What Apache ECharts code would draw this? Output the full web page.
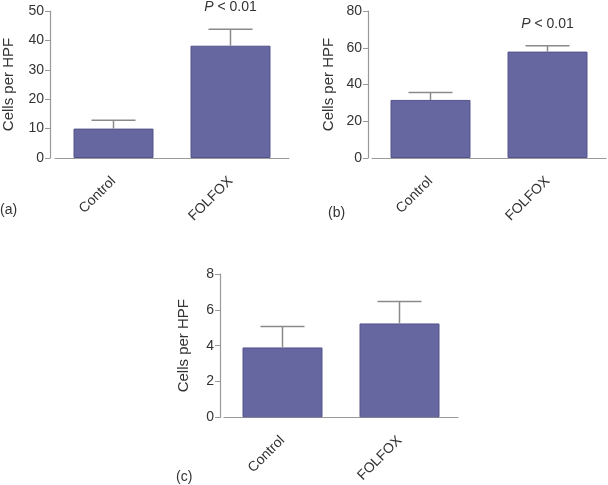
<!DOCTYPE html>
<html>
<head>
<meta charset="utf-8">
<script src="https://cdn.jsdelivr.net/npm/echarts@6/dist/echarts.min.js"></script>
<style>
html,body{margin:0;padding:0;background:#fff;}
#chart{width:608px;height:485px;}
</style>
</head>
<body>
<div id="chart"></div>
<script>
var categories = ["Control", "FOLFOX"];
var panelLabels = ["(a)", "(b)", "(c)"];
var yName = "Cells per HPF";

var meansA = [10.0, 38.2];
var upperA = [12.8, 43.8];
var pA = ["", "P < 0.01"];
var ticksA = [0, 10, 20, 30, 40, 50];

var meansB = [31.6, 57.9];
var upperB = [35.7, 61.1];
var pB = ["", "P < 0.01"];
var ticksB = [0, 20, 40, 60, 80];

var meansC = [3.9, 5.24];
var upperC = [5.07, 6.47];
var pC = ["", ""];
var ticksC = [0, 2, 4, 6, 8];

var FONT = "Liberation Sans";
var TXT = "#333";
var AX = "#999";
var BAR = "#6666a0";

var chart = echarts.init(document.getElementById("chart"), null, {renderer: "canvas"});

var grids = [
  {left: 55, top: 11, width: 234, height: 147},
  {left: 372, top: 11, width: 234, height: 147},
  {left: 224, top: 274, width: 234, height: 145}
];

function xAx(i) {
  return {
    type: "category", gridIndex: i, data: categories,
    axisLine: {lineStyle: {color: AX, width: 1.2}},
    axisTick: {alignWithLabel: true, length: 5, lineStyle: {color: AX}},
    axisLabel: {rotate: 45, margin: 21, color: TXT, fontFamily: FONT, fontSize: 14}
  };
}
function yAx(i, ticks, off, gap) {
  return {
    type: "value", gridIndex: i, min: ticks[0], max: ticks[ticks.length - 1],
    interval: ticks[1] - ticks[0], offset: off,
    name: yName, nameLocation: "middle", nameGap: gap,
    nameTextStyle: {color: TXT, fontFamily: FONT, fontSize: 15},
    splitLine: {show: false},
    axisLine: {show: true, lineStyle: {color: AX, width: 1.2}},
    axisTick: {show: true, length: 5, lineStyle: {color: AX}},
    axisLabel: {color: TXT, fontFamily: FONT, fontSize: 14, margin: 6}
  };
}
function barSeries(i, means) {
  return {
    type: "bar", xAxisIndex: i, yAxisIndex: i, data: means, barWidth: 80,
    itemStyle: {color: BAR, borderColor: "#55558c", borderWidth: 1},
    silent: true, z: 2
  };
}
function errSeries(i, means, upper, plabels) {
  var data = means.map(function (m, k) { return [k, m, upper[k], plabels[k]]; });
  return {
    type: "custom", xAxisIndex: i, yAxisIndex: i, data: data, z: 3, silent: true,
    renderItem: function (params, api) {
      var x = api.value(0);
      var p0 = api.coord([x, api.value(1)]);
      var p1 = api.coord([x, api.value(2)]);
      var hw = 22;
      var st = {stroke: "#8a8a8a", lineWidth: 1.5};
      var kids = [
        {type: "line", shape: {x1: p0[0], y1: p0[1], x2: p1[0], y2: p1[1]}, style: st},
        {type: "line", shape: {x1: p1[0] - hw, y1: p1[1], x2: p1[0] + hw, y2: p1[1]}, style: st}
      ];
      var lab = data[params.dataIndex][3];
      if (lab) {
        var parts = lab.split(" ");
        kids.push({
          type: "text",
          style: {
            x: p1[0], y: p1[1] - 22,
            text: "{i|" + parts[0] + "} " + parts.slice(1).join(" "),
            align: "center", verticalAlign: "middle",
            fontFamily: FONT, fontSize: 14, fill: TXT,
            rich: {i: {fontStyle: "italic", fontFamily: FONT, fontSize: 14, color: TXT}}
          }
        });
      }
      return {type: "group", children: kids};
    }
  };
}

chart.setOption({
  animation: false,
  backgroundColor: "#fff",
  grid: grids,
  xAxis: [xAx(0), xAx(1), xAx(2)],
  yAxis: [yAx(0, ticksA, 5, 34), yAx(1, ticksB, 4, 32), yAx(2, ticksC, 4, 29)],
  series: [
    barSeries(0, meansA), errSeries(0, meansA, upperA, pA),
    barSeries(1, meansB), errSeries(1, meansB, upperB, pB),
    barSeries(2, meansC), errSeries(2, meansC, upperC, pC)
  ],
  graphic: [
    {type: "text", left: 0, top: 203, style: {text: panelLabels[0], fontFamily: FONT, fontSize: 14, fill: TXT}},
    {type: "text", left: 328, top: 206, style: {text: panelLabels[1], fontFamily: FONT, fontSize: 14, fill: TXT}},
    {type: "text", left: 176, top: 470, style: {text: panelLabels[2], fontFamily: FONT, fontSize: 14, fill: TXT}}
  ]
});
</script>
</body>
</html>
